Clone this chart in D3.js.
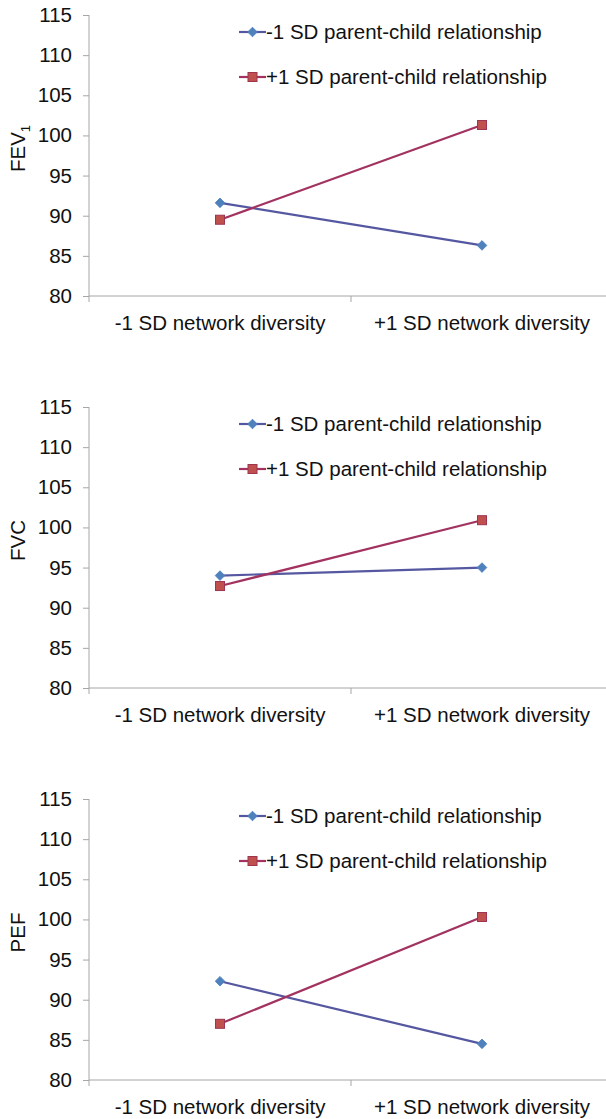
<!DOCTYPE html>
<html>
<head>
<meta charset="utf-8">
<script src="https://cdn.jsdelivr.net/npm/d3@7"></script>
<style>
  body { margin: 0; background: #fff; }
  text { font-family: "Liberation Sans", Arial, sans-serif; fill: #111; }
</style>
</head>
<body>
<svg id="chart"></svg>
<script>
let categories = ["-1 SD network diversity", "+1 SD network diversity"]
let seriesNames = ["-1 SD parent-child relationship", "+1 SD parent-child relationship"]
let yTicks = [80, 85, 90, 95, 100, 105, 110, 115]

let fevLow = [91.6, 86.3]
let fevHigh = [89.5, 101.3]
let fvcLow = [94.0, 95.0]
let fvcHigh = [92.7, 100.9]
let pefLow = [92.3, 84.5]
let pefHigh = [87.0, 100.3]

let panels = [
  {label: "FEV", sub: "1", low: fevLow, high: fevHigh, top: 15},
  {label: "FVC", sub: "", low: fvcLow, high: fvcHigh, top: 407},
  {label: "PEF", sub: "", low: pefLow, high: pefHigh, top: 799}
]

let width = 606
let height = 1119
let plotLeft = 89
let plotRight = 613
let plotHeight = 281
let fontSize = "20.5px"

let lineColors = ["#5558a0", "#a2325f"]
let markerFill = ["#4f81bd", "#c0504d"]
let markerStroke = ["#4f81bd", "#9c3452"]
let axisColor = "#a6a6a6"

let svg = d3.select("#chart")
  .attr("width", width)
  .attr("height", height)

let xScale = d3.scaleBand()
  .domain(categories)
  .range([plotLeft, plotRight])
  .paddingInner(0).paddingOuter(0)

let xMid = (c) => xScale(c) + xScale.bandwidth() / 2

let drawMarker = (g, i, x, y) => {
  if (i === 0) {
    g.append("rect")
     .attr("x", -3.4).attr("y", -3.4)
     .attr("width", 6.8).attr("height", 6.8)
     .attr("transform", "translate(" + x + "," + y + ") rotate(45)")
     .attr("fill", markerFill[i])
     .attr("stroke", markerStroke[i])
     .attr("stroke-width", 0.8)
  } else {
    g.append("rect")
     .attr("x", x - 4.5).attr("y", y - 4.5)
     .attr("width", 9).attr("height", 9)
     .attr("fill", markerFill[i])
     .attr("stroke", markerStroke[i])
     .attr("stroke-width", 1)
  }
}

panels.forEach((p) => {
  let g = svg.append("g")
  let bottom = p.top + plotHeight

  let yScale = d3.scaleLinear()
    .domain([80, 115])
    .range([bottom, p.top])

  // y axis
  let yAxis = d3.axisLeft(yScale)
    .tickValues(yTicks)
    .tickSize(6)
    .tickPadding(11)
    .tickSizeOuter(0)
  let ya = g.append("g")
    .attr("transform", "translate(" + plotLeft + ",0)")
    .call(yAxis)
  ya.select(".domain").remove()
  ya.selectAll(".tick line").attr("stroke", axisColor)
  ya.selectAll(".tick text")
    .style("font-size", fontSize)
    .attr("fill", "#111")
  g.append("line")
   .attr("x1", plotLeft).attr("x2", plotLeft)
   .attr("y1", p.top).attr("y2", bottom + 6)
   .attr("stroke", axisColor)

  // x axis
  let xAxis = d3.axisBottom(xScale)
    .tickSize(0)
    .tickPadding(19)
  let xa = g.append("g")
    .attr("transform", "translate(0," + bottom + ")")
    .call(xAxis)
  xa.select(".domain").remove()
  xa.selectAll(".tick text")
    .style("font-size", fontSize)
    .attr("fill", "#111")
  g.append("line")
   .attr("x1", plotLeft).attr("x2", plotRight)
   .attr("y1", bottom).attr("y2", bottom)
   .attr("stroke", axisColor)
  categories.forEach((c) => {
    let bx = xScale(c) + xScale.bandwidth()
    g.append("line")
     .attr("x1", bx).attr("x2", bx)
     .attr("y1", bottom).attr("y2", bottom + 6)
     .attr("stroke", axisColor)
  })

  // y title
  let t = g.append("text")
    .attr("transform", "translate(25," + (p.top + plotHeight / 2 - 7) + ") rotate(-90)")
    .attr("text-anchor", "middle")
    .style("font-size", fontSize)
  t.append("tspan").text(p.label)
  if (p.sub) {
    t.append("tspan").text(p.sub).attr("dy", 5).style("font-size", "13px")
  }

  // series
  let series = [p.low, p.high]
  let line = d3.line()
    .x((d, i) => xMid(categories[i]))
    .y((d) => yScale(d))
  series.forEach((vals, si) => {
    g.append("path")
     .datum(vals)
     .attr("d", line)
     .attr("fill", "none")
     .attr("stroke", lineColors[si])
     .attr("stroke-width", 2.2)
  })
  series.forEach((vals, si) => {
    vals.forEach((v, i) => drawMarker(g, si, xMid(categories[i]), yScale(v)))
  })

  // legend
  seriesNames.forEach((name, si) => {
    let ly = p.top + 17 + si * 45
    g.append("line")
     .attr("x1", 239).attr("x2", 266)
     .attr("y1", ly).attr("y2", ly)
     .attr("stroke", lineColors[si])
     .attr("stroke-width", 2.2)
    drawMarker(g, si, 252.5, ly)
    g.append("text")
     .attr("x", 266).attr("y", ly)
     .attr("dy", "0.35em")
     .style("font-size", fontSize)
     .text(name)
  })
})
</script>
</body>
</html>
